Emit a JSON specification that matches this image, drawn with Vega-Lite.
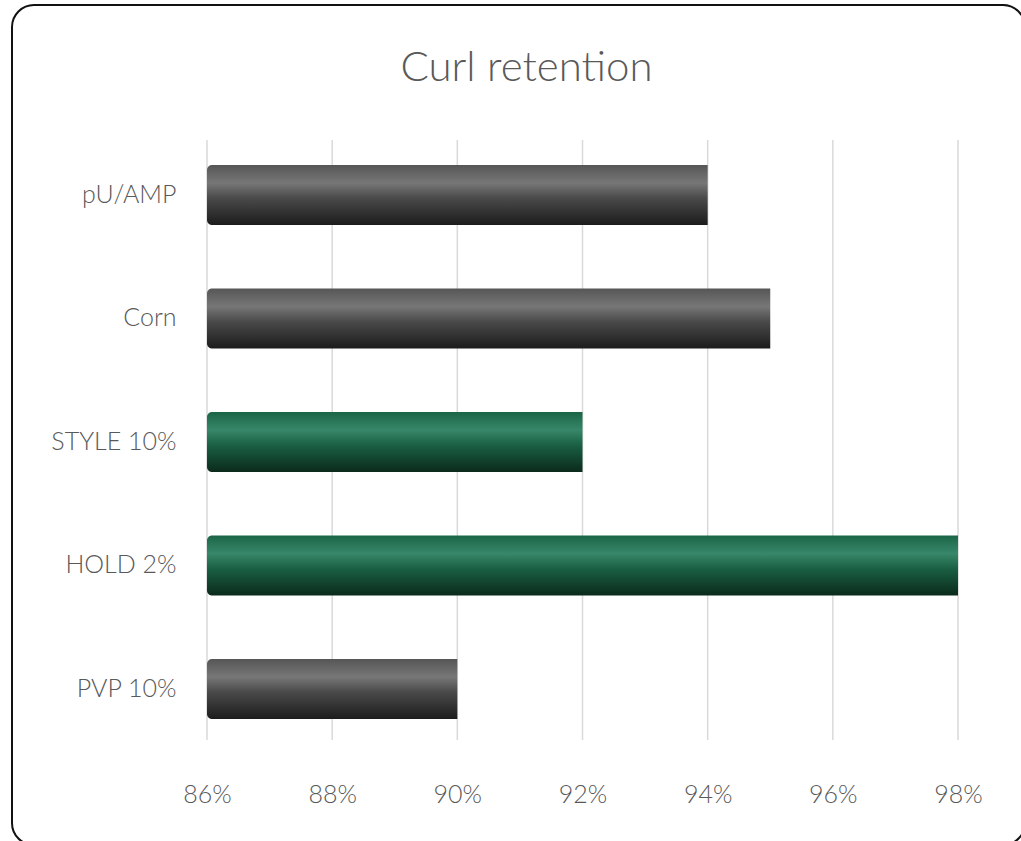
{
  "$schema": "https://vega.github.io/schema/vega-lite/v6.json",
  "autosize": {"type": "none"},
  "padding": {"left": 12, "top": 5, "right": -4, "bottom": -4},
  "width": 1013,
  "height": 840,
  "background": "white",
  "config": {
    "font": "Lato",
    "view": {"stroke": "#111111", "strokeWidth": 2, "cornerRadius": 22, "fill": "white"},
    "axis": {"labelFont": "Lato", "labelColor": "#595959", "labelFontWeight": 300, "domain": false, "ticks": false, "tickSize": 0, "grid": false}
  },
  "title": {
    "text": "Curl retention",
    "fontSize": 42,
    "fontWeight": 300,
    "color": "#595959",
    "font": "Lato",
    "anchor": "middle",
    "baseline": "alphabetic",
    "offset": -118,
    "dx": 8
  },
  "data": {
    "values": [
      {"name": "pU/AMP", "value": 0.94, "group": "other"},
      {"name": "Corn", "value": 0.95, "group": "other"},
      {"name": "STYLE 10%", "value": 0.92, "group": "ours"},
      {"name": "HOLD 2%", "value": 0.98, "group": "ours"},
      {"name": "PVP 10%", "value": 0.90, "group": "other"}
    ]
  },
  "layer": [
    {
      "data": {"values": [{"t": 0.86}, {"t": 0.88}, {"t": 0.90}, {"t": 0.92}, {"t": 0.94}, {"t": 0.96}, {"t": 0.98}]},
      "mark": {"type": "rule", "color": "#d9d9d9", "strokeWidth": 1.5},
      "encoding": {
        "x": {"field": "t", "type": "quantitative", "scale": {"domain": [0.82884, 0.990706], "nice": false, "zero": false}, "axis": {"values": [0.86, 0.88, 0.9, 0.92, 0.94, 0.96, 0.98], "format": ".0%", "title": null, "labelFontSize": 25, "labelBaseline": "alphabetic", "labelPadding": 0, "offset": -43, "labelFlush": false}},
        "y": {"datum": 83.93, "type": "quantitative", "scale": {"domain": [0, 100], "nice": false}, "axis": null},
        "y2": {"datum": 12.5}
      }
    },
    {
      "layer": [
        {
          "transform": [{"filter": "datum.group === 'other'"}],
          "mark": {
            "type": "bar",
            "size": 60,
            "cornerRadiusTopLeft": 5,
            "cornerRadiusBottomLeft": 5,
            "color": {"gradient": "linear", "x1": 0, "y1": 0, "x2": 0, "y2": 1, "stops": [
              {"offset": 0, "color": "#565656"},
              {"offset": 0.3, "color": "#777777"},
              {"offset": 0.55, "color": "#4a4a4a"},
              {"offset": 1, "color": "#1c1c1c"}
            ]}
          },
          "encoding": {
            "y": {"field": "name", "type": "nominal", "sort": ["pU/AMP", "Corn", "STYLE 10%", "HOLD 2%", "PVP 10%"], "scale": {"domain": ["pU/AMP", "Corn", "STYLE 10%", "HOLD 2%", "PVP 10%"], "paddingInner": 0.1984, "paddingOuter": 1, "align": 0.5688}, "axis": {"title": null, "labelFontSize": 25, "labelPadding": 31, "offset": -195}},
            "x": {"field": "value", "type": "quantitative"},
            "x2": {"datum": 0.86}
          }
        },
        {
          "transform": [{"filter": "datum.group === 'ours'"}],
          "mark": {
            "type": "bar",
            "size": 60,
            "cornerRadiusTopLeft": 5,
            "cornerRadiusBottomLeft": 5,
            "color": {"gradient": "linear", "x1": 0, "y1": 0, "x2": 0, "y2": 1, "stops": [
              {"offset": 0, "color": "#1b6546"},
              {"offset": 0.3, "color": "#38876a"},
              {"offset": 0.55, "color": "#1a6044"},
              {"offset": 1, "color": "#0b2a1c"}
            ]}
          },
          "encoding": {
            "y": {"field": "name", "type": "nominal", "sort": ["pU/AMP", "Corn", "STYLE 10%", "HOLD 2%", "PVP 10%"]},
            "x": {"field": "value", "type": "quantitative"},
            "x2": {"datum": 0.86}
          }
        }
      ]
    }
  ],
  "resolve": {"scale": {"y": "independent"}}
}
